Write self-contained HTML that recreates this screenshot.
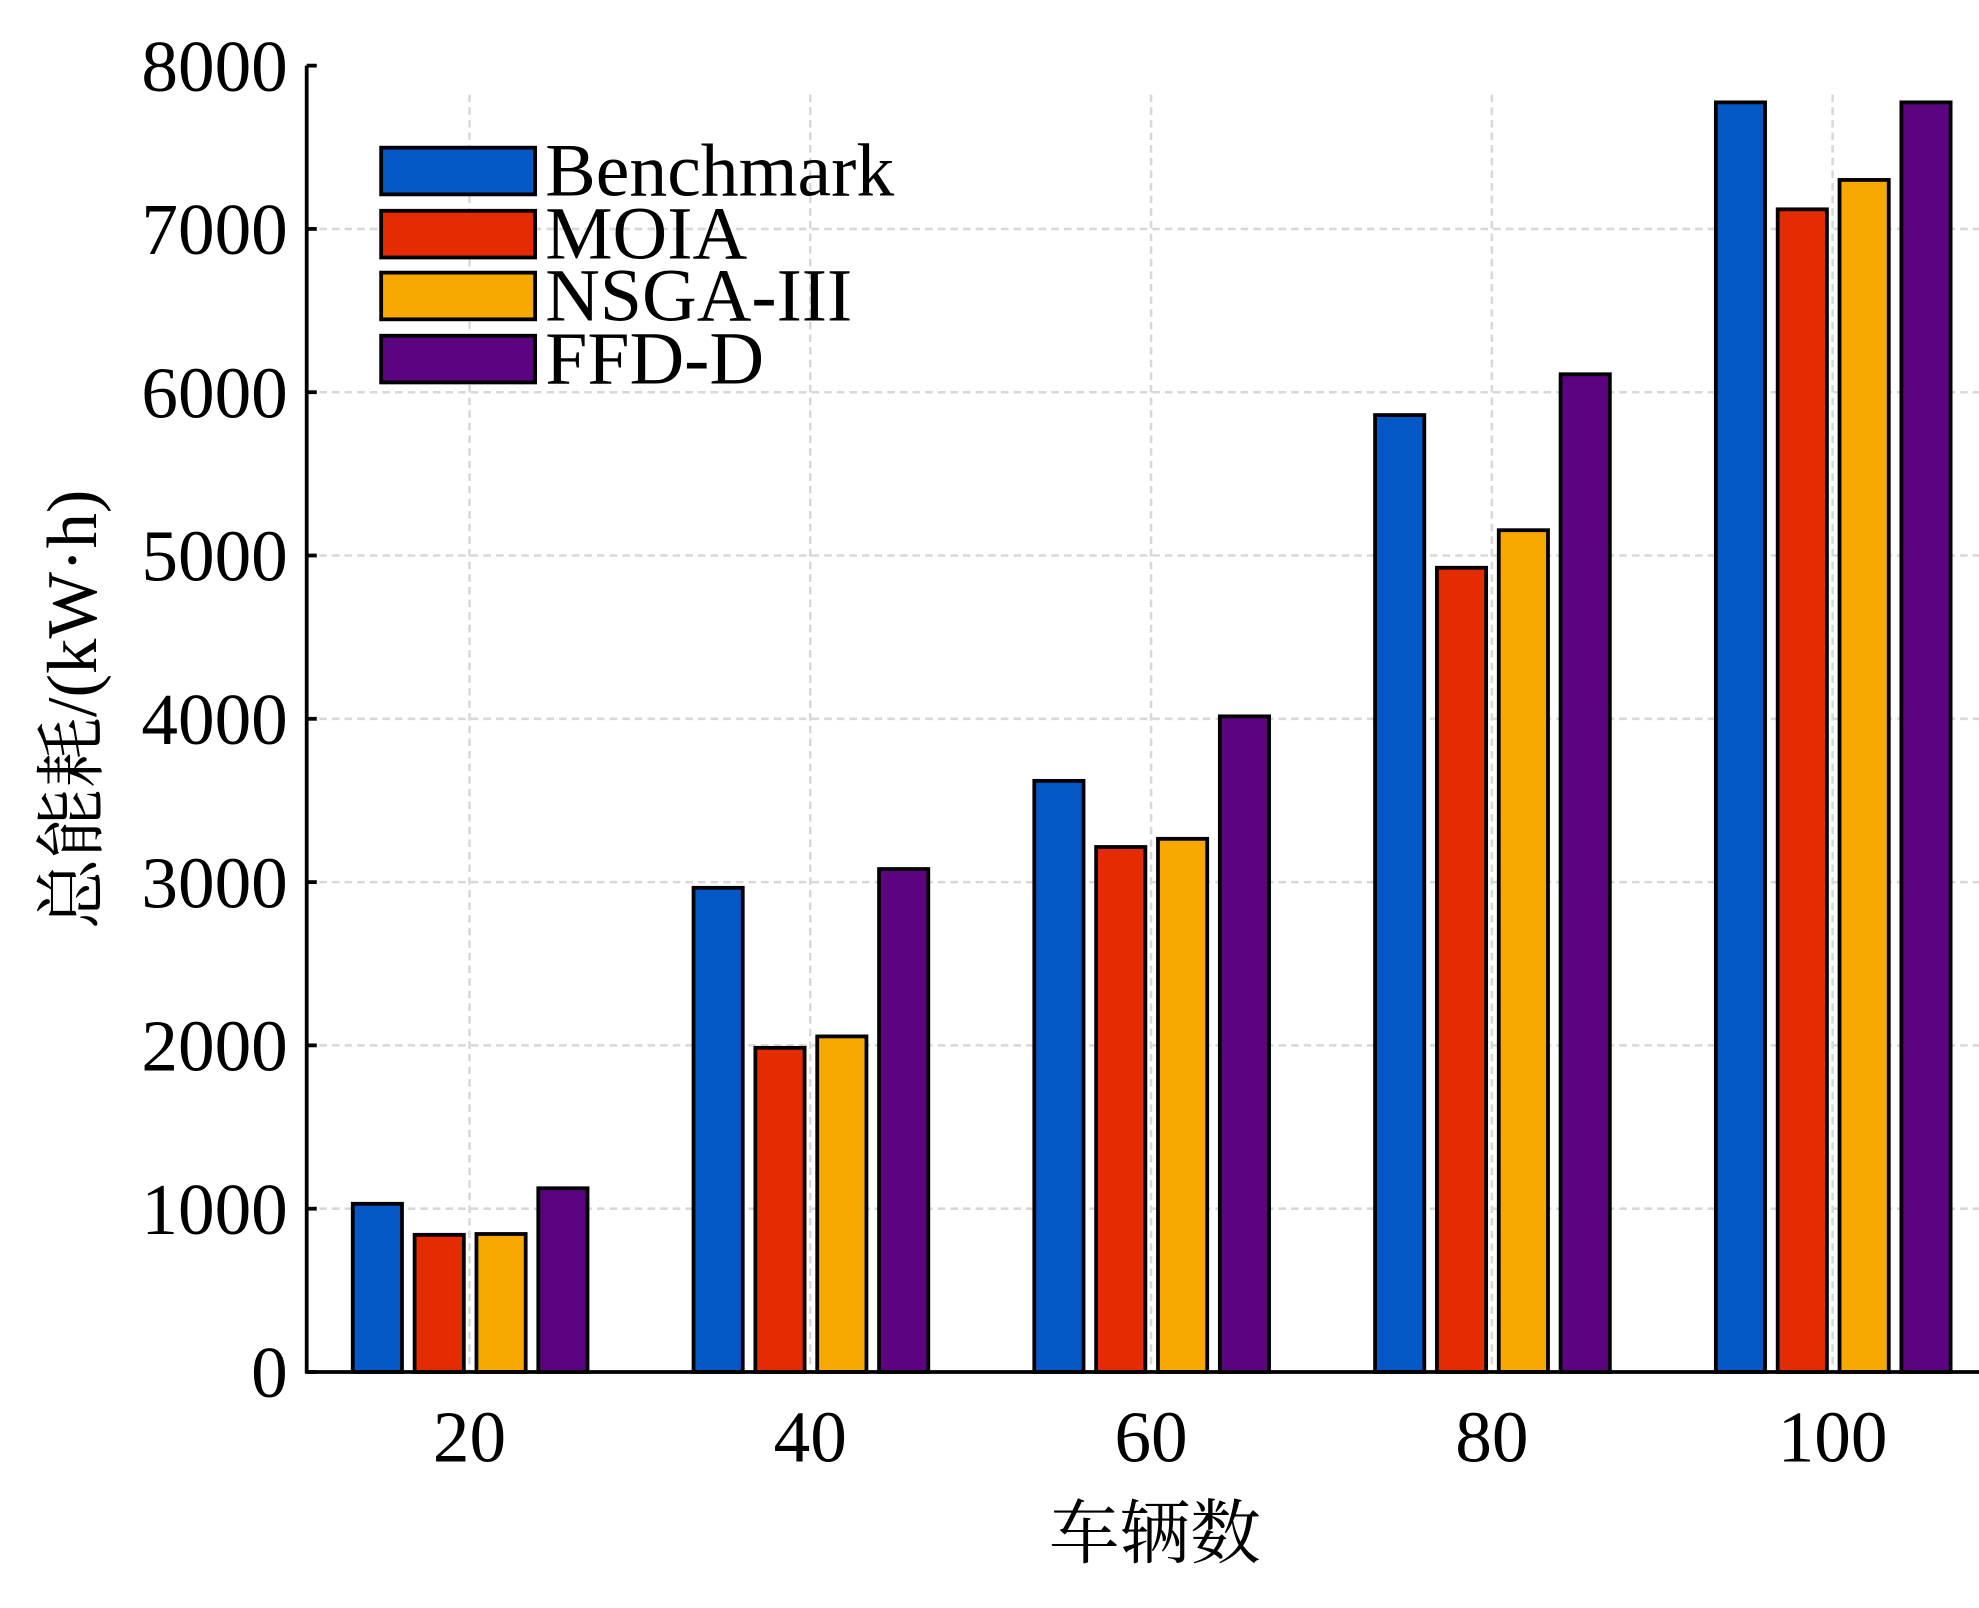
<!DOCTYPE html>
<html><head><meta charset="utf-8"><style>
html,body{margin:0;padding:0;background:#fff;}
svg{display:block;}
text{font-family:"Liberation Serif","Noto Serif CJK SC",serif;fill:#000;}
</style></head><body>
<svg id="chart" width="1979" height="1608" viewBox="0 0 1568 1274" preserveAspectRatio="none" xmlns="http://www.w3.org/2000/svg"></svg>
<script>
const categories = [20, 40, 60, 80, 100];
const seriesNames = ["Benchmark", "MOIA", "NSGA-III", "FFD-D"];
const benchmark = [1030, 2965, 3620, 5860, 7775];
const moia = [840, 1985, 3215, 4925, 7120];
const nsga = [845, 2055, 3265, 5155, 7300];
const ffdd = [1125, 3080, 4015, 6110, 7775];
const yTicks = [0, 1000, 2000, 3000, 4000, 5000, 6000, 7000, 8000];

const colors = ["#0358c6", "#e52c00", "#f7a900", "#5c0380"];
const series = [benchmark, moia, nsga, ffdd];
const NS = "http://www.w3.org/2000/svg";
const svg = document.getElementById("chart");
const x0 = 243, y0 = 1087;
function yScale(v){ return y0 - v * (1087 - 52) / 8000; }
function xScale(c){ return 372 + (c - 20) * 270 / 20; }
function mk(tag, attrs, parent){
  const e = document.createElementNS(NS, tag);
  for (const k in attrs) e.setAttribute(k, attrs[k]);
  (parent || svg).appendChild(e);
  return e;
}
// grid
const grid = mk("g", {});


yTicks.forEach(t => { if (t > 0 && t < 8000) mk("line", {x1: x0, x2: 1568, y1: yScale(t), y2: yScale(t), stroke: "#d8d8d8", "stroke-width": 2, "stroke-dasharray": "6 4"}, grid); });
categories.forEach(c => mk("line", {x1: xScale(c), x2: xScale(c), y1: 75, y2: y0, stroke: "#d8d8d8", "stroke-width": 2, "stroke-dasharray": "6 4"}, grid));
// bars
const offsets = [-73, -24, 25, 74];
series.forEach((arr, si) => {
  arr.forEach((v, ci) => {
    const cx = xScale(categories[ci]) + offsets[si];
    const r = mk("rect", {x: cx - 19.5, y: yScale(v), width: 39, height: y0 - yScale(v), fill: colors[si], stroke: "#000", "stroke-width": 3});
    
    
  });
});
// axes
const ya = mk("line", {x1: x0, x2: x0, y1: 52, y2: y0 + 1, stroke: "#000", "stroke-width": 3});


const xa = mk("line", {x1: x0 - 1, x2: 1568, y1: y0, y2: y0, stroke: "#000", "stroke-width": 3});


yTicks.forEach(t => {
  mk("line", {x1: x0, x2: x0 + 8, y1: yScale(t), y2: yScale(t), stroke: "#000", "stroke-width": 3});
  const tx = mk("text", {x: 228, y: yScale(t) + 20, "text-anchor": "end", "font-size": 58});
  tx.textContent = t;
  
  
});
categories.forEach(c => {
  const tx = mk("text", {x: xScale(c), y: 1158, "text-anchor": "middle", "font-size": 58});
  tx.textContent = c;
  
  
});
// titles
const xt = mk("text", {x: 915, y: 1234, "text-anchor": "middle", "font-size": 56});
xt.textContent = "车辆数";


const yt = mk("text", {x: 0, y: 0, "text-anchor": "middle", "font-size": 56, transform: "translate(76,562) rotate(-90)"});
yt.textContent = "总能耗/(kW·h)";


// legend
const lg = mk("g", {});


const ly = [117, 167, 216, 266];
seriesNames.forEach((n, i) => {
  const sw = mk("rect", {x: 302, y: ly[i], width: 122, height: 37, fill: colors[i], stroke: "#000", "stroke-width": 3}, lg);
  
  
  const tx = mk("text", {x: 432, y: ly[i] + 38, "font-size": 60}, lg);
  tx.textContent = n;
  
  
});
</script>
</body></html>
